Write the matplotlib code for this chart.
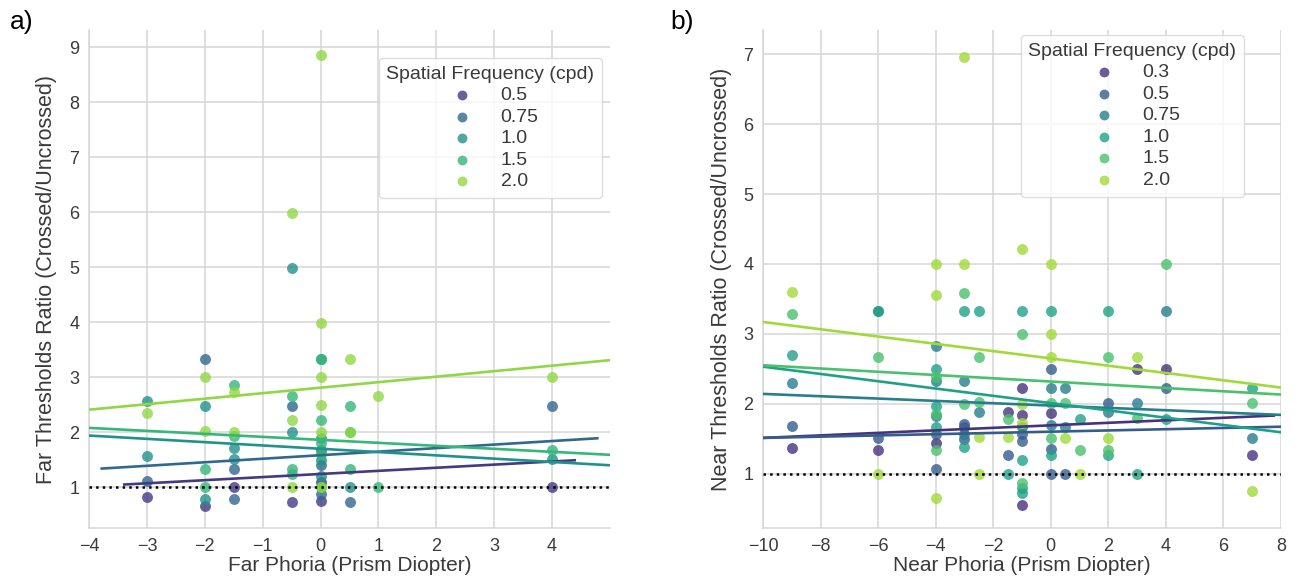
import numpy as np
import matplotlib
matplotlib.use("Agg")
import matplotlib.pyplot as plt

plt.rcParams["font.family"] = ["Liberation Sans", "DejaVu Sans"]

# ---- panel a: far phoria ----
far_freqs = ["0.5", "0.75", "1.0", "1.5", "2.0"]
far_x = [
    [-3, -2, -1.5, -0.5, 0, 0, 4],
    [-3, -2, -1.5, -1.5, -0.5, 0, 0, 0, 0.5, 4],
    [-3, -3, -2, -2, -1.5, -1.5, -0.5, -0.5, 0, 0, 0, 0, 0.5, 4],
    [-2, -2, -1.5, -1.5, -0.5, -0.5, -0.5, 0, 0, 0, 0, 0, 0.5, 0.5, 0.5, 1, 4],
    [-3, -2, -2, -1.5, -1.5, -0.5, -0.5, -0.5, 0, 0, 0, 0, 0, 0, 0.5, 0.5, 1, 4],
]
far_y = [
    [0.82, 0.66, 1.0, 0.74, 1.1, 0.75, 1.0],
    [1.12, 3.33, 1.33, 0.79, 2.48, 1.67, 1.4, 0.87, 0.74, 2.48],
    [2.57, 1.57, 2.48, 0.79, 1.51, 1.71, 4.98, 2.01, 3.33, 1.9, 1.5, 1.2, 1.0, 1.51],
    [1.33, 1.0, 2.86, 1.93, 2.66, 1.33, 1.25, 3.33, 2.22, 1.8, 1.6, 1.0, 2.48, 2.01, 1.33, 1.0, 1.68],
    [2.35, 3.0, 2.03, 2.74, 2.01, 5.98, 2.22, 1.0, 8.86, 3.98, 3.0, 2.5, 2.0, 1.0, 3.33, 2.01, 2.65, 3.0],
]
# fitted regression lines: intercept, slope, x extent
far_icpt = [1.242, 1.583, 1.70, 1.862, 2.81]
far_slope = [0.0566, 0.0643, -0.060, -0.0544, 0.100]
far_xlo = [-3.39, -3.78, -4, -4, -4]
far_xhi = [4.39, 4.78, 5, 5, 5]

# ---- panel b: near phoria ----
near_freqs = ["0.3", "0.5", "0.75", "1.0", "1.5", "2.0"]
near_x = [
    [-9, -6, -4, -1.5, -1, -1, -1, 0, 3, 4, 7],
    [-9, -6, -4, -4, -3, -3, -3, -1.5, -1, -1, 0, 0, 0, 0.5, 2, 4],
    [-9, -6, -4, -4, -4, -3, -3, -2.5, -1, 0, 0, 0.5, 0.5, 2, 3, 4, 7],
    [-9, -6, -4, -4, -4, -3, -3, -2.5, -1.5, -1, -1, -1, -1, 0, 0, 1, 2, 2, 3, 4, 7],
    [-9, -6, -4, -4, -4, -3, -3, -2.5, -2.5, -1.5, -1, -1, 0, 0, 0.5, 1, 2, 2, 3, 4, 7],
    [-9, -6, -4, -4, -4, -3, -3, -2.5, -2.5, -1.5, -1, -1, -1, 0, 0, 0, 0.5, 1, 2, 3, 7],
]
near_y = [
    [1.36, 1.34, 1.44, 1.88, 2.23, 1.84, 0.55, 1.87, 2.5, 2.5, 1.26],
    [1.68, 1.51, 1.57, 1.07, 1.71, 1.66, 1.5, 1.26, 1.47, 1.57, 2.5, 1.35, 1.0, 1.0, 2.01, 2.23],
    [2.29, 3.33, 2.82, 2.33, 1.83, 2.33, 1.57, 1.88, 1.66, 2.23, 1.69, 2.23, 1.67, 1.88, 2.01, 3.33, 1.51],
    [2.69, 3.33, 2.5, 1.96, 1.67, 3.33, 1.38, 3.33, 1.0, 3.33, 1.2, 0.79, 0.72, 3.33, 1.27, 1.78, 3.33, 1.26, 1.0, 1.78, 2.23],
    [3.28, 2.67, 2.38, 1.85, 1.33, 3.58, 2.0, 2.67, 2.02, 1.78, 3.0, 0.86, 2.01, 1.51, 2.01, 1.34, 2.67, 1.33, 1.8, 4.0, 2.01],
    [3.6, 1.0, 4.0, 3.55, 0.65, 6.96, 4.0, 1.52, 1.0, 1.52, 4.21, 2.0, 1.72, 4.0, 3.0, 2.67, 1.51, 1.0, 1.51, 2.67, 0.75],
]
near_icpt = [1.69, 1.599, 1.973, 2.008, 2.317, 2.648]
near_slope = [0.018, 0.0089, -0.0167, -0.0522, -0.0233, -0.0522]
near_xlo = [-10, -10, -10, -10, -10, -10]
near_xhi = [7.75, 8, 8, 8, 8, 8]

TXT = "#3a3a3a"
GRID = "#d6d6d6"


def draw_panel(ax, freqs, xs, ys, icpt, slope, xlo, xhi, xlim, ylim,
               xlabel, ylabel, leg_anchor, ypad):
    cols = plt.cm.viridis(np.linspace(0, 1, len(freqs) + 2)[1:-1])
    for i, f in enumerate(freqs):
        ax.scatter(xs[i], ys[i], s=62, color=cols[i], alpha=0.8,
                   linewidths=0, label=f, zorder=3)
    for i in range(len(freqs)):
        lx = np.array([xlo[i], xhi[i]])
        ax.plot(lx, icpt[i] + slope[i] * lx, color=cols[i], lw=1.9, zorder=4)
    ax.axhline(1, color="black", ls=":", lw=1.8, zorder=5)
    ax.set_xlim(*xlim)
    ax.set_ylim(*ylim)
    ax.grid(True, color=GRID, lw=1.1)
    ax.set_axisbelow(True)
    for side in ["top", "right"]:
        ax.spines[side].set_visible(False)
    for side in ["left", "bottom"]:
        ax.spines[side].set_color(GRID)
        ax.spines[side].set_linewidth(1.1)
    ax.tick_params(length=0, labelsize=13, labelcolor=TXT, pad=7)
    ax.set_xlabel(xlabel, fontsize=15, color=TXT, labelpad=1)
    ax.set_ylabel(ylabel, fontsize=15.5, color=TXT, labelpad=ypad)
    leg = ax.legend(title="Spatial Frequency (cpd)", loc="upper right",
                    bbox_to_anchor=leg_anchor, borderaxespad=0,
                    fontsize=14, title_fontsize=14, frameon=True,
                    handletextpad=1.0, labelspacing=0.2, markerscale=0.9)
    leg.get_frame().set_edgecolor(GRID)
    for t in leg.get_texts():
        t.set_color(TXT)
    leg.get_title().set_color(TXT)


fig = plt.figure(figsize=(12.98, 5.88), dpi=100)
axa = fig.add_axes([89 / 1298, 60 / 588, 521 / 1298, 498 / 588])
axb = fig.add_axes([763 / 1298, 60 / 588, 518 / 1298, 498 / 588])

draw_panel(axa, far_freqs, far_x, far_y, far_icpt, far_slope, far_xlo, far_xhi,
           (-4, 5), (0.26, 9.31), "Far Phoria (Prism Diopter)",
           "Far Thresholds Ratio (Crossed/Uncrossed)", (0.985, 0.944), 9)
axa.set_xticks(np.arange(-4, 5))
axa.set_yticks(np.arange(1, 10))

draw_panel(axb, near_freqs, near_x, near_y, near_icpt, near_slope, near_xlo, near_xhi,
           (-10, 8), (0.22, 7.35), "Near Phoria (Prism Diopter)",
           "Near Thresholds Ratio (Crossed/Uncrossed)", (0.929, 0.99), 8)
axb.set_xticks(np.arange(-10, 9, 2))
axb.set_yticks(np.arange(1, 8))

fig.text(10 / 1298, 1 - 22 / 588, "a)", fontsize=19, va="center", color="black")
fig.text(670 / 1298, 1 - 22 / 588, "b)", fontsize=19, va="center", color="black")

fig.savefig("out.png", dpi=100)
